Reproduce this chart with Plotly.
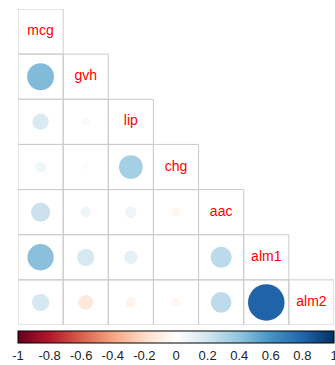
import numpy as np
import plotly.graph_objects as go

# variables (E. coli data set)
names = ['mcg', 'gvh', 'lip', 'chg', 'aac', 'alm1', 'alm2']

# lower triangle of the correlation matrix
row_gvh = [0.44]
row_lip = [0.16, 0.04]
row_chg = [0.07, 0.02, 0.34]
row_aac = [0.22, 0.07, 0.08, -0.05]
row_alm1 = [0.42, 0.18, 0.11, 0.005, 0.27]
row_alm2 = [0.18, -0.13, -0.065, -0.05, 0.26, 0.81]

lower = [row_gvh, row_lip, row_chg, row_aac, row_alm1, row_alm2]

# corrplot's RdBu palette
rdbu = ['#67001F', '#B2182B', '#D6604D', '#F4A582', '#FDDBC7', '#FFFFFF',
        '#D1E5F0', '#92C5DE', '#4393C3', '#2166AC', '#053061']
cscale = [[i / 10, c] for i, c in enumerate(rdbu)]

n = len(names)
W, H = 335, 365
ml, mr, mt, mb = 18, 1, 9, 40
cell = (W - ml - mr) / n

xs, ys, vals = [], [], []
for i, row in enumerate(lower):
    for j, v in enumerate(row):
        xs.append(j + 1)
        ys.append(i + 2)
        vals.append(v)
vals = np.array(vals)
sizes = 0.9 * np.sqrt(np.abs(vals)) * cell

fig = go.Figure()

# grid of cells, lower triangle including the diagonal
for i in range(n):
    for j in range(i + 1):
        fig.add_shape(type='rect', x0=j + 0.5, x1=j + 1.5, y0=i + 0.5, y1=i + 1.5,
                      line=dict(color='#CCCCCC', width=1), layer='below')

fig.add_trace(go.Scatter(
    x=xs, y=ys, mode='markers', hoverinfo='text',
    text=['%.2f' % v for v in vals],
    marker=dict(size=sizes, color=vals, cmin=-1, cmax=1, colorscale=cscale,
                opacity=1, line=dict(width=0),
                colorbar=dict(orientation='h', x=0.5, xanchor='center',
                              y=-0.019, yanchor='top', thickness=12,
                              len=316, lenmode='pixels', xpad=0, ypad=0,
                              outlinecolor='black', outlinewidth=1,
                              tickvals=[-1, -0.8, -0.6, -0.4, -0.2, 0, 0.2, 0.4, 0.6, 0.8, 1],
                              ticktext=['-1', '-0.8', '-0.6', '-0.4', '-0.2', '0',
                                        '0.2', '0.4', '0.6', '0.8', '1'],
                              ticks='', ticklabelposition='outside bottom',
                              ticklabeloverflow='allow',
                              tickfont=dict(size=13, color='#222222',
                                            family='Liberation Sans, Arial')))
))

# labels on the diagonal
fig.add_trace(go.Scatter(
    x=list(range(1, n + 1)), y=list(range(1, n + 1)), mode='text',
    text=names, hoverinfo='skip',
    textfont=dict(color='red', size=14, family='Liberation Sans, Arial')
))

fig.update_layout(
    width=W, height=H, showlegend=False,
    margin=dict(l=ml, r=mr, t=mt, b=mb, autoexpand=False),
    paper_bgcolor='white', plot_bgcolor='white',
    xaxis=dict(range=[0.5, n + 0.5], visible=False, fixedrange=True),
    yaxis=dict(range=[n + 0.5, 0.5], visible=False, fixedrange=True),
)

# page has a default 8px body margin; drop it so the figure sits at the corner
fig.write_html('out.html', config={'displayModeBar': False},
               post_script="document.body.style.margin='0';")
